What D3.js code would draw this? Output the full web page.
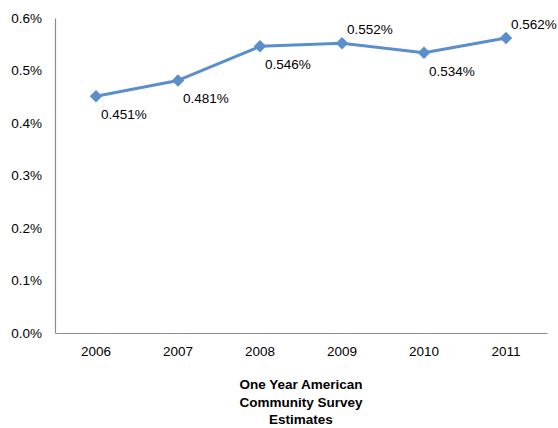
<!DOCTYPE html>
<html><head><meta charset="utf-8">
<script src="https://cdn.jsdelivr.net/npm/d3@7"></script>
<style>body{margin:0;background:#fff;}text{font-family:"Liberation Sans",Arial,sans-serif;}</style>
</head><body><svg id="c" width="558" height="428"></svg>
<script>
const years = ["2006","2007","2008","2009","2010","2011"];
const values = [0.451,0.481,0.546,0.552,0.534,0.562];
const labelPos = ["below","below","below","above","below","above"];
const yTicks = [0,0.1,0.2,0.3,0.4,0.5,0.6];
const titleLines = ["One Year American","Community Survey","Estimates"];

const svg = d3.select("#c");
const mL=55,mR=547,mT=18,mB=333;
const x = d3.scaleBand().domain(years).range([mL,mR]);
const y = d3.scaleLinear().domain([0,0.6]).range([mB,mT]);
const color="#5B8FCB";

const ya = svg.append("g").attr("transform",`translate(${mL},0)`)
  .call(d3.axisLeft(y).tickValues(yTicks).tickSize(0).tickPadding(13).tickFormat(d=>d.toFixed(1)+"%"));
ya.select(".domain").attr("stroke","#8c8c8c").attr("stroke-width",1.2);
ya.selectAll("text").attr("font-size",13.5).attr("fill","#000");

const xa = svg.append("g").attr("transform",`translate(0,${mB})`)
  .call(d3.axisBottom(x).tickSize(0).tickPadding(13));
xa.select(".domain").attr("stroke","#8c8c8c").attr("stroke-width",1.2);
xa.selectAll("text").attr("font-size",13.5).attr("fill","#000");

const line = d3.line().x((d,i)=>x(years[i])+x.bandwidth()/2).y(d=>y(d));
svg.append("path").datum(values).attr("d",line).attr("fill","none")
  .attr("stroke",color).attr("stroke-width",3).attr("stroke-linejoin","round");

svg.selectAll(".m").data(values).enter().append("path")
  .attr("d",d3.symbol().type(d3.symbolSquare).size(78))
  .attr("transform",(d,i)=>`translate(${x(years[i])+x.bandwidth()/2},${y(d)}) rotate(45)`)
  .attr("fill",color);

svg.selectAll(".lab").data(values).enter().append("text")
  .attr("x",(d,i)=>x(years[i])+x.bandwidth()/2+5)
  .attr("y",(d,i)=>y(d)+(labelPos[i]==="below"?23:-9))
  .attr("font-size",13.5).attr("fill","#000")
  .text(d=>d.toFixed(3)+"%");

const t = svg.append("text").attr("text-anchor","middle").attr("font-size",13.5).attr("font-weight","bold");
titleLines.forEach((s,i)=>t.append("tspan").attr("x",301).attr("y",389+i*17.5).text(s));
</script></body></html>
